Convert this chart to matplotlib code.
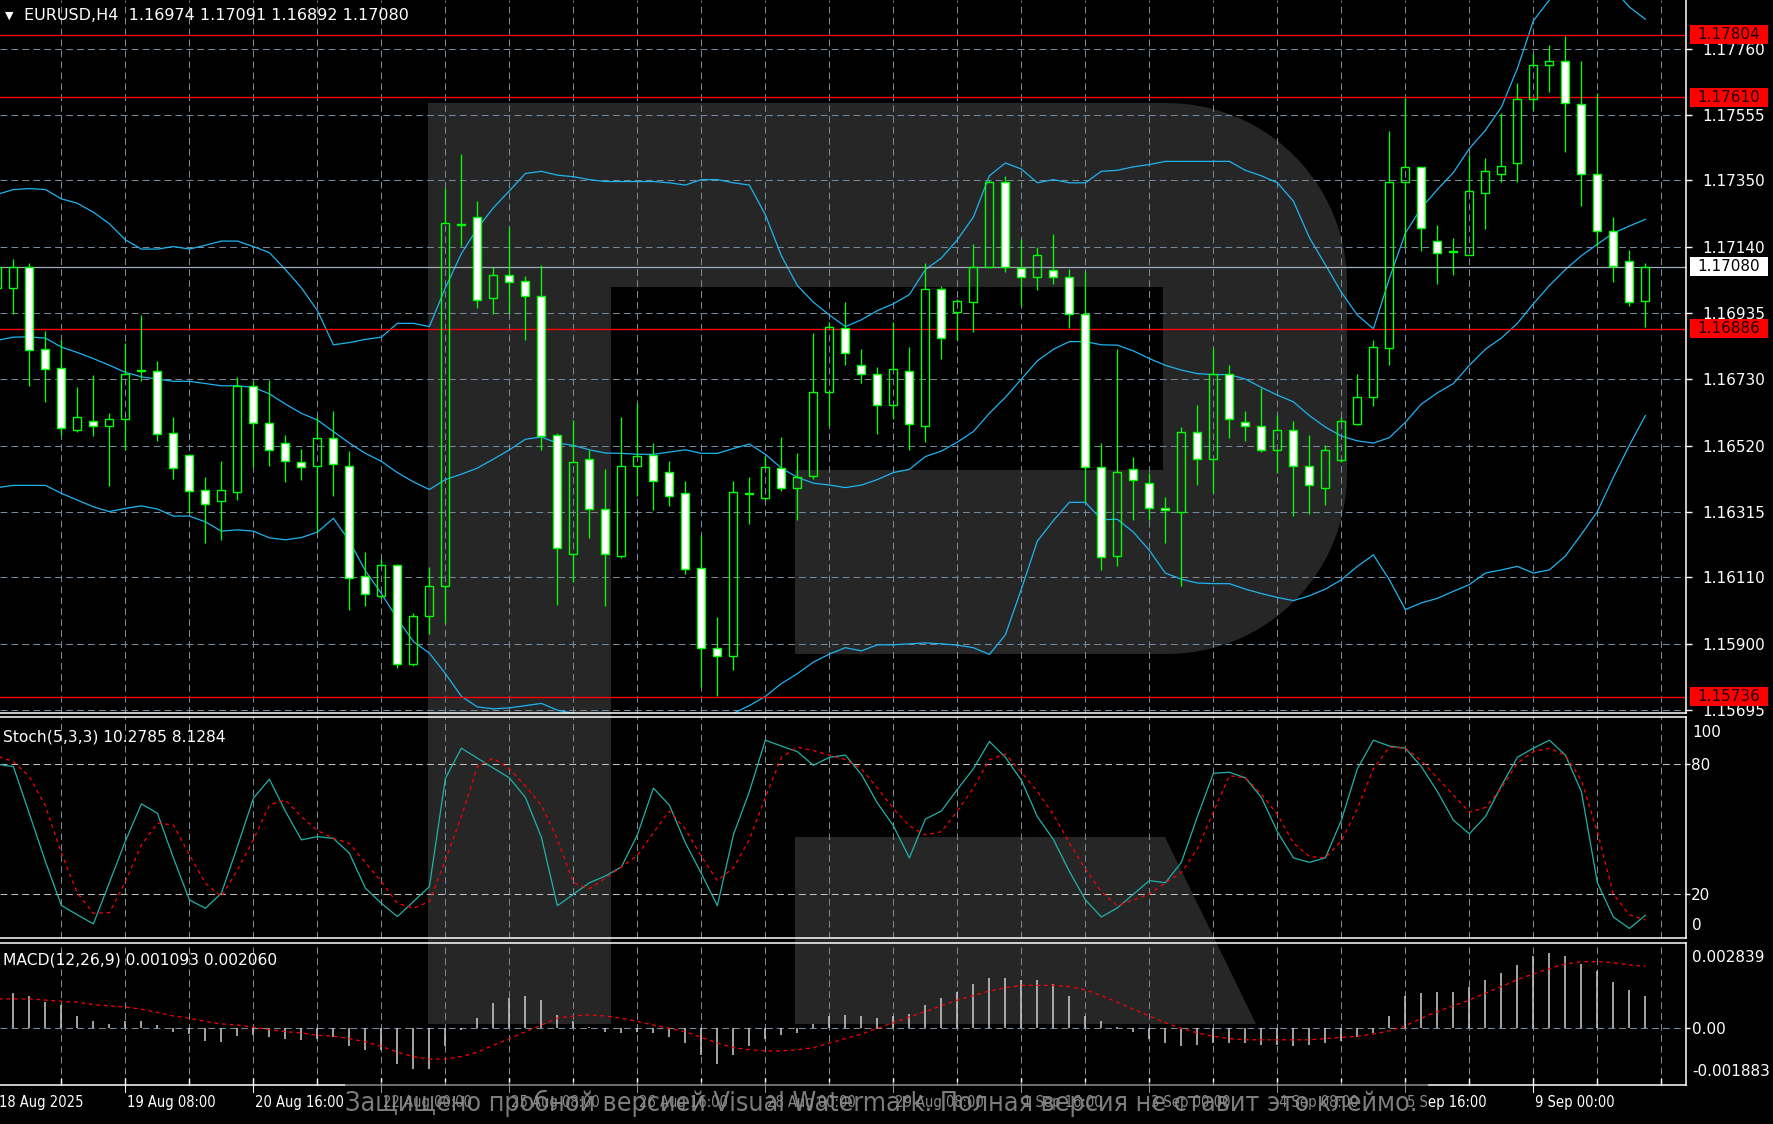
import matplotlib
matplotlib.use("Agg")
import matplotlib.pyplot as plt
from matplotlib import font_manager as fm
from matplotlib.patches import Rectangle, Polygon
import numpy as np

# ---- EURUSD H4 bars, first bar (index -1) is cut by the left edge ----
o = [1.17014, 1.17014, 1.17078, 1.16822, 1.16765, 1.16571, 1.16598, 1.16583, 1.16603, 1.16757,
     1.16753, 1.16561, 1.16491, 1.16384, 1.16347, 1.16377, 1.16708, 1.16591, 1.16529, 1.16469,
     1.16458, 1.16546, 1.16458, 1.16113, 1.16052, 1.16147, 1.15840, 1.15990, 1.16083, 1.17214,
     1.17235, 1.16983, 1.17053, 1.17036, 1.16990, 1.16554, 1.16183, 1.16479, 1.16322, 1.16176,
     1.16458, 1.16491, 1.16439, 1.16372, 1.16140, 1.15890, 1.15863, 1.16372, 1.16358, 1.16451,
     1.16390, 1.16425, 1.16689, 1.16889, 1.16772, 1.16746, 1.16648, 1.16753, 1.16583, 1.17010,
     1.16940, 1.16971, 1.17078, 1.17346, 1.17076, 1.17047, 1.17071, 1.17047, 1.16933, 1.16454,
     1.16177, 1.16447, 1.16404, 1.16325, 1.16315, 1.16565, 1.16479, 1.16746, 1.16596, 1.16583,
     1.16508, 1.16569, 1.16458, 1.16390, 1.16475, 1.16589, 1.16672, 1.16826, 1.17346, 1.17391,
     1.17160, 1.17130, 1.17117, 1.17311, 1.17371, 1.17403, 1.17603, 1.17710, 1.17723, 1.17589,
     1.17371, 1.17190, 1.17097, 1.16974]
h = [1.17085, 1.17104, 1.17090, 1.16880, 1.16850, 1.16703, 1.16743, 1.16622, 1.16843, 1.16929,
     1.16786, 1.16612, 1.16496, 1.16422, 1.16472, 1.16735, 1.16722, 1.16725, 1.16555, 1.16511,
     1.16611, 1.16629, 1.16504, 1.16190, 1.16166, 1.16151, 1.15997, 1.16141, 1.17325, 1.17431,
     1.17285, 1.17078, 1.17204, 1.17050, 1.17086, 1.16561, 1.16601, 1.16508, 1.16448, 1.16612,
     1.16653, 1.16529, 1.16472, 1.16411, 1.16241, 1.15985, 1.16411, 1.16422, 1.16489, 1.16548,
     1.16498, 1.16874, 1.16906, 1.16971, 1.16822, 1.16767, 1.16906, 1.16829, 1.17090, 1.17021,
     1.16978, 1.17150, 1.17352, 1.17362, 1.17168, 1.17143, 1.17181, 1.17074, 1.17068, 1.16529,
     1.16822, 1.16487, 1.16437, 1.16361, 1.16579, 1.16648, 1.16826, 1.16772, 1.16629, 1.16700,
     1.16618, 1.16598, 1.16554, 1.16522, 1.16611, 1.16746, 1.16850, 1.17503, 1.17606, 1.17391,
     1.17211, 1.17171, 1.17428, 1.17418, 1.17560, 1.17653, 1.17744, 1.17774, 1.17799, 1.17723,
     1.17623, 1.17235, 1.17131, 1.17091]
l = [1.17005, 1.16931, 1.16706, 1.16658, 1.16555, 1.16563, 1.16551, 1.16394, 1.16508, 1.16722,
     1.16536, 1.16418, 1.16312, 1.16218, 1.16227, 1.16351, 1.16455, 1.16458, 1.16408, 1.16415,
     1.16251, 1.16365, 1.16009, 1.16019, 1.16044, 1.15828, 1.15833, 1.15933, 1.15966, 1.17145,
     1.16950, 1.16931, 1.16936, 1.16850, 1.16508, 1.16023, 1.16094, 1.16233, 1.16019, 1.16170,
     1.16365, 1.16320, 1.16332, 1.16119, 1.15766, 1.15738, 1.15819, 1.16275, 1.16351, 1.16380,
     1.16290, 1.16418, 1.16583, 1.16772, 1.16718, 1.16558, 1.16603, 1.16508, 1.16532, 1.16793,
     1.16850, 1.16876, 1.17078, 1.17064, 1.16957, 1.17007, 1.17026, 1.16889, 1.16344, 1.16133,
     1.16144, 1.16290, 1.16290, 1.16216, 1.16083, 1.16397, 1.16372, 1.16544, 1.16536, 1.16501,
     1.16437, 1.16301, 1.16308, 1.16337, 1.16469, 1.16586, 1.16646, 1.16772, 1.17143, 1.17128,
     1.17026, 1.17053, 1.17117, 1.17197, 1.17345, 1.17346, 1.17570, 1.17627, 1.17439, 1.17271,
     1.17145, 1.17033, 1.16957, 1.16892]
c = [1.17078, 1.17078, 1.16819, 1.16760, 1.16576, 1.16611, 1.16583, 1.16603, 1.16746, 1.16754,
     1.16558, 1.16451, 1.16380, 1.16340, 1.16384, 1.16708, 1.16591, 1.16508, 1.16472, 1.16455,
     1.16546, 1.16465, 1.16109, 1.16059, 1.16147, 1.15840, 1.15990, 1.16084, 1.17217, 1.17210,
     1.16976, 1.17053, 1.17033, 1.16989, 1.16551, 1.16201, 1.16469, 1.16322, 1.16183, 1.16458,
     1.16489, 1.16411, 1.16365, 1.16137, 1.15890, 1.15863, 1.16377, 1.16369, 1.16454, 1.16390,
     1.16422, 1.16690, 1.16892, 1.16810, 1.16746, 1.16648, 1.16760, 1.16589, 1.17010, 1.16857,
     1.16974, 1.17078, 1.17346, 1.17078, 1.17047, 1.17117, 1.17047, 1.16933, 1.16454, 1.16173,
     1.16439, 1.16415, 1.16327, 1.16320, 1.16565, 1.16479, 1.16746, 1.16603, 1.16583, 1.16508,
     1.16569, 1.16458, 1.16397, 1.16508, 1.16598, 1.16672, 1.16829, 1.17346, 1.17391, 1.17200,
     1.17124, 1.17126, 1.17317, 1.17378, 1.17396, 1.17603, 1.17710, 1.17723, 1.17592, 1.17371,
     1.17190, 1.17083, 1.16971, 1.17080]

# Bollinger bands (points, /1e5)
bb_up = [117306, 117321, 117324, 117321, 117292, 117278, 117250, 117214, 117164, 117135,
         117135, 117143, 117135, 117147, 117160, 117160, 117143, 117124, 117071, 117014,
         116943, 116836, 116843, 116853, 116860, 116903, 116903, 116893, 117014, 117121,
         117200, 117264, 117317, 117371, 117378, 117366, 117361, 117352, 117346, 117346,
         117346, 117346, 117342, 117335, 117352, 117352, 117342, 117335, 117242, 117114,
         117021, 116969, 116929, 116893, 116914, 116943, 116964, 116993, 117071, 117107,
         117164, 117235, 117364, 117404, 117385, 117342, 117352, 117342, 117342, 117378,
         117381, 117392, 117399, 117409, 117409, 117409, 117409, 117409, 117381, 117364,
         117342, 117285, 117171, 117086, 117000, 116929, 116886, 117043, 117185, 117264,
         117321, 117374, 117449, 117506, 117578, 117699, 117848, 117913, 117977, 117991,
         117984, 117948, 117891, 117853]
bb_mid = [116850, 116860, 116861, 116857, 116829, 116812, 116793, 116772, 116750, 116736,
          116729, 116722, 116722, 116715, 116708, 116708, 116703, 116683, 116651, 116622,
          116601, 116565, 116529, 116497, 116472, 116437, 116408, 116384, 116415, 116432,
          116451, 116479, 116508, 116541, 116548, 116529, 116522, 116508, 116498, 116497,
          116494, 116494, 116501, 116508, 116497, 116497, 116512, 116526, 116494, 116451,
          116422, 116404, 116398, 116390, 116398, 116415, 116437, 116447, 116487, 116504,
          116532, 116565, 116622, 116672, 116729, 116786, 116822, 116846, 116846, 116836,
          116835, 116817, 116793, 116772, 116757, 116746, 116743, 116743, 116729, 116703,
          116679, 116658, 116615, 116579, 116551, 116536, 116529, 116546, 116594, 116651,
          116686, 116715, 116772, 116822, 116857, 116903, 116964, 117021, 117071, 117114,
          117150, 117185, 117207, 117228]
bb_low = [116390, 116397, 116397, 116397, 116372, 116351, 116330, 116315, 116325, 116333,
          116323, 116301, 116301, 116283, 116254, 116258, 116254, 116233, 116227, 116234,
          116251, 116294, 116223, 116130, 116059, 115980, 115909, 115873, 115809, 115738,
          115705, 115699, 115702, 115709, 115716, 115695, 115685, 115677, 115667, 115652,
          115645, 115638, 115638, 115645, 115652, 115667, 115685, 115709, 115738, 115778,
          115809, 115845, 115870, 115890, 115880, 115899, 115899, 115902, 115905, 115902,
          115898, 115890, 115869, 115930, 116073, 116223, 116287, 116344, 116344, 116290,
          116291, 116251, 116194, 116123, 116104, 116092, 116090, 116090, 116073, 116059,
          116047, 116037, 116052, 116073, 116102, 116144, 116180, 116102, 116009, 116030,
          116044, 116066, 116087, 116123, 116133, 116144, 116123, 116133, 116176, 116244,
          116315, 116422, 116522, 116615]

stoch_k = [80.0, 78.9, 57.1, 35.1, 14.8, 10.5, 6.3, 25.4, 44.5, 61.7,
           57.4, 36.8, 17.4, 13.5, 20.5, 42.0, 64.3, 73.1, 58.3, 45.1,
           46.6, 45.8, 38.9, 22.8, 15.8, 9.7, 16.6, 23.5, 73.5, 87.4,
           82.8, 78.2, 73.7, 64.7, 46.3, 14.7, 20.0, 25.3, 28.4, 32.6,
           47.4, 69.0, 61.1, 43.7, 29.5, 14.7, 47.4, 67.4, 91.1, 88.4,
           85.8, 79.5, 83.2, 84.2, 75.3, 62.1, 51.6, 36.8, 54.7, 58.4,
           68.4, 77.9, 90.5, 83.2, 72.6, 55.8, 45.3, 30.5, 17.4, 9.5,
           13.7, 20.0, 26.3, 25.3, 34.7, 55.8, 75.8, 76.3, 73.7, 64.7,
           48.9, 36.8, 34.7, 36.8, 54.2, 77.9, 91.1, 88.4, 87.4, 78.9,
           67.4, 54.2, 47.9, 55.8, 70.0, 83.2, 87.4, 91.1, 84.2, 67.4,
           25.3, 9.5, 4.2, 10.2785]
stoch_d = [83.8, 81.2, 74.3, 60.8, 38.9, 20.5, 11.2, 11.5, 25.8, 42.8,
           52.8, 52.0, 38.2, 25.1, 18.9, 31.2, 45.1, 61.2, 63.5, 55.8,
           49.4, 45.8, 43.5, 34.6, 25.8, 15.8, 13.5, 16.6, 35.8, 55.8,
           78.9, 82.8, 77.9, 70.0, 61.1, 45.3, 25.3, 22.6, 27.4, 32.6,
           37.9, 48.4, 58.4, 50.0, 37.4, 26.3, 32.1, 45.3, 64.7, 83.2,
           87.9, 86.3, 84.2, 82.1, 77.9, 69.0, 59.5, 51.6, 47.4, 48.9,
           58.4, 69.0, 82.1, 84.7, 76.3, 67.4, 56.8, 43.7, 31.6, 21.1,
           14.7, 17.4, 20.0, 25.3, 30.0, 41.1, 57.9, 74.7, 73.7, 66.3,
           56.8, 43.7, 37.4, 36.8, 44.7, 59.5, 77.9, 87.9, 87.4, 81.6,
           73.7, 65.8, 57.9, 60.0, 69.0, 80.5, 85.8, 87.4, 84.2, 72.6,
           48.9, 20.0, 10.5, 8.1284]

macd_main = [0.00117, 0.00117, 0.00109, 0.00087, 0.00079, 0.00041, 0.00023, 0.00015, 0.00026, 0.00026,
             0.00011, -0.00011, -0.00019, -0.00041, -0.00045, -0.00026, -0.00023, -0.00030, -0.00034, -0.00038,
             -0.00034, -0.00030, -0.00060, -0.00071, -0.00071, -0.00117, -0.00135, -0.00135, -0.00060, -0.00004,
             0.00034, 0.00083, 0.00102, 0.00109, 0.00094, 0.00045, 0.00026, 0.00004, -0.00011, -0.00015,
             -0.00011, -0.00015, -0.00030, -0.00049, -0.00087, -0.00117, -0.00087, -0.00060, -0.00034, -0.00023,
             -0.00015, 0.00015, 0.00041, 0.00045, 0.00041, 0.00034, 0.00041, 0.00049, 0.00079, 0.00102,
             0.00120, 0.00147, 0.00166, 0.00169, 0.00162, 0.00162, 0.00147, 0.00109, 0.00041, 0.00026,
             0.00004, -0.00011, -0.00034, -0.00049, -0.00060, -0.00056, -0.00049, -0.00049, -0.00049, -0.00056,
             -0.00056, -0.00060, -0.00056, -0.00049, -0.00041, -0.00030, -0.00015, 0.00041, 0.00109, 0.00117,
             0.00120, 0.00120, 0.00139, 0.00162, 0.00184, 0.00211, 0.00241, 0.00252, 0.00241, 0.00214,
             0.00192, 0.00154, 0.00128, 0.001093]
macd_signal = [0.00098, 0.00098, 0.00098, 0.00094, 0.00090, 0.00087, 0.00079, 0.00075, 0.00071, 0.00064,
               0.00053, 0.00041, 0.00034, 0.00023, 0.00015, 0.00011, 0.00004, -0.00004, -0.00011, -0.00015,
               -0.00023, -0.00026, -0.00034, -0.00045, -0.00060, -0.00079, -0.00094, -0.00102, -0.00102, -0.00094,
               -0.00079, -0.00056, -0.00034, -0.00011, 0.00011, 0.00034, 0.00041, 0.00045, 0.00041, 0.00034,
               0.00023, 0.00011, 0.0, -0.00011, -0.00030, -0.00049, -0.00064, -0.00071, -0.00075, -0.00075,
               -0.00071, -0.00064, -0.00049, -0.00034, -0.00019, 0.0, 0.00019, 0.00038, 0.00056, 0.00075,
               0.00094, 0.00109, 0.00124, 0.00135, 0.00143, 0.00143, 0.00143, 0.00139, 0.00128, 0.00109,
               0.00087, 0.00064, 0.00041, 0.00019, 0.0, -0.00015, -0.00026, -0.00034, -0.00038, -0.00038,
               -0.00038, -0.00038, -0.00038, -0.00034, -0.00030, -0.00026, -0.00019, -0.00008, 0.00008, 0.00034,
               0.00056, 0.00075, 0.00094, 0.00117, 0.00139, 0.00162, 0.00181, 0.00199, 0.00214, 0.00222,
               0.00222, 0.00218, 0.00211, 0.00206]

price_ticks = [1.17760, 1.17555, 1.17350, 1.17140, 1.16935, 1.16730,
               1.16520, 1.16315, 1.16110, 1.15900, 1.15695]
levels = [1.17804, 1.17610, 1.16886, 1.15736]
last_price = 1.17080
xtick_labels = ["18 Aug 2025", "19 Aug 08:00", "20 Aug 16:00", "22 Aug 00:00",
                "25 Aug 08:00", "26 Aug 16:00", "28 Aug 00:00", "29 Aug 08:00",
                "1 Sep 16:00", "3 Sep 00:00", "4 Sep 08:00", "5 Sep 16:00", "9 Sep 00:00"]
xtick_bars = [-1, 7, 15, 23, 31, 39, 47, 55, 63, 71, 79, 87, 95]

header = "EURUSD,H4  1.16974 1.17091 1.16892 1.17080"
stoch_label = "Stoch(5,3,3) 10.2785 8.1284"
macd_label = "MACD(12,26,9) 0.001093 0.002060"
stamp = "Защищено пробной версией Visual Watermark. Полная версия не ставит это клеймо."

# ---------------- layout ----------------
W, H = 1774, 1124
GREEN = "#00ff00"
BAND = "#1eb4f0"
GRID = "#778899"
WM = "#262626"
dash = (0, (6.5, 4))

x = np.arange(len(c)) - 1
bb_up = np.array(bb_up) / 1e5
bb_mid = np.array(bb_mid) / 1e5
bb_low = np.array(bb_low) / 1e5

fig = plt.figure(figsize=(W / 100, H / 100), dpi=100, facecolor="black")


def box(x0, y0, x1, y1):
    return [x0 / W, 1 - y1 / H, (x1 - x0) / W, (y1 - y0) / H]


# condensed font for the time scale if there is one
cands = [f for f in fm.fontManager.ttflist
         if ("Narrow" in f.name or "Condensed" in f.name or f.stretch in ("condensed", "semi-condensed"))
         and f.style == "normal" and f.weight in (400, "normal", "regular")]
cands.sort(key=lambda f: (0 if "Sans" in f.name else 1, f.name))
if cands:
    narrow = fm.FontProperties(fname=cands[0].fname)
else:
    narrow = fm.FontProperties(family="DejaVu Sans")

# background with the big "R" watermark
bg = fig.add_axes([0, 0, 1, 1], zorder=0)
bg.set_xlim(0, W)
bg.set_ylim(H, 0)
bg.axis("off")


def rounded_right(x0, y0, x1, y1, r):
    pts = [(x0, y0), (x1 - r, y0)]
    for a in np.linspace(np.pi / 2, 0, 24):
        pts.append((x1 - r + r * np.cos(a), y0 + r - r * np.sin(a)))
    for a in np.linspace(0, -np.pi / 2, 24):
        pts.append((x1 - r + r * np.cos(a), y1 - r - r * np.sin(a)))
    pts.append((x0, y1))
    return pts


bg.add_patch(Polygon(rounded_right(428, 103, 1347, 654, 180), closed=True, fc=WM, ec="none"))
bg.add_patch(Rectangle((428, 103), 183, 921, fc=WM, ec="none"))
bg.add_patch(Rectangle((611, 287), 552, 183, fc="black", ec="none"))
bg.add_patch(Rectangle((611, 470), 184, 184, fc="black", ec="none"))
bg.add_patch(Polygon([(795, 837), (1165, 837), (1256, 1024), (795, 1024)], closed=True, fc=WM, ec="none"))

ax = fig.add_axes(box(0, 0, 1686, 713), zorder=2)
st = fig.add_axes(box(0, 717, 1686, 938), zorder=2)
md = fig.add_axes(box(0, 943, 1686, 1085), zorder=2)

for a in (ax, st, md):
    a.set_facecolor("none")
    a.set_xlim(-0.8375, 104.54)
    for s in a.spines.values():
        s.set_color("white")
        s.set_linewidth(1.1)
    a.spines["left"].set_visible(False)
    a.yaxis.tick_right()
    a.set_xticks(np.arange(3, 105, 4))
    a.tick_params(axis="x", length=0, labelbottom=False)
    a.grid(axis="x", color=GRID, lw=0.75, ls=dash)
ax.spines["top"].set_visible(False)

# ---- price panel ----
ax.set_ylim(1.15686, 1.17913)
ax.set_yticks(price_ticks)
ax.set_yticklabels(["%.5f" % v for v in price_ticks])
ax.tick_params(axis="y", colors="white", labelsize=11, length=4, width=1, pad=8)
ax.grid(axis="y", color=GRID, lw=0.75, ls=dash)

ax.plot(x, bb_up, color=BAND, lw=0.9, zorder=2.2)
ax.plot(x, bb_mid, color=BAND, lw=0.9, zorder=2.2)
ax.plot(x, bb_low, color=BAND, lw=0.9, zorder=2.2)

for lv in levels:
    ax.axhline(lv, color="red", lw=1.0, zorder=2.4)
ax.axhline(last_price, color="#a3adb8", lw=0.9, zorder=2.4)

oa, ca = np.array(o), np.array(c)
lo_b, hi_b = np.minimum(oa, ca), np.maximum(oa, ca)
ax.vlines(x, l, lo_b, color=GREEN, lw=0.95, zorder=3)
ax.vlines(x, hi_b, h, color=GREEN, lw=0.95, zorder=3)
for xi, b0, b1, bull in zip(x, lo_b, hi_b, ca >= oa):
    ax.add_patch(Rectangle((xi - 0.25, b0), 0.5, max(b1 - b0, 1e-6),
                           fc="none" if bull else "white", ec=GREEN, lw=1.0, zorder=3.5))

# ---- stochastic ----
st.set_ylim(-0.2, 101.8)
st.set_yticks([20, 80])
st.set_yticklabels(["20", "80"])
st.tick_params(axis="y", colors="white", labelsize=11, length=3, width=1, pad=0.5)
st.grid(axis="y", color="#c0c0c0", lw=0.75, ls=dash)
st.plot(x, stoch_k, color="#20b2aa", lw=0.9)
st.plot(x, stoch_d, color="red", lw=0.9, ls=(0, (3, 3)))

# ---- MACD ----
md.set_ylim(-0.001883, 0.002839)
md.set_yticks([0])
md.set_yticklabels(["0.00"])
md.tick_params(axis="y", colors="white", labelsize=11, length=3, width=1, pad=1.5)
md.grid(axis="y", color=GRID, lw=0.75, ls=dash)
md.vlines(x, 0, macd_main, color="#cfcfcf", lw=1.1)
md.plot(x, macd_signal, color="red", lw=0.9, ls=(0, (3, 3)))
md.tick_params(axis="x", direction="in", length=5, width=1, color="white")

# ---- overlay: labels, boxes, header ----
ov = fig.add_axes([0, 0, 1, 1], zorder=5)
ov.set_xlim(0, W)
ov.set_ylim(H, 0)
ov.axis("off")


def ypix(a, v):
    return H - a.transData.transform((0, v))[1]


def xpix(a, v):
    return a.transData.transform((v, 0))[0]


for lv in levels:
    yp = ypix(ax, lv)
    ov.add_patch(Rectangle((1690, yp - 9.5), 78, 19, fc="red", ec="none"))
    ov.text(1729, yp, "%.5f" % lv, color="#1a0000", ha="center", va="center", size=11)
yp = ypix(ax, last_price)
ov.add_patch(Rectangle((1690, yp - 9.5), 78, 19, fc="white", ec="none"))
ov.text(1729, yp, "%.5f" % last_price, color="black", ha="center", va="center", size=11)

ov.text(1692, ypix(st, 100) + 12, "100", color="white", size=11, va="center")
ov.text(1692, ypix(st, 0) - 12, "0", color="white", size=11, va="center")
ov.text(1692, ypix(md, 0.002839) + 14, "0.002839", color="white", size=11, va="center")
ov.text(1692, ypix(md, -0.001883) - 14, "-0.001883", color="white", size=11, va="center")

ov.text(5, 16, "\u25bc", color="white", size=8, va="center")
ov.text(24, 16, header, color="white", size=11.5, va="center")
ov.text(3, 737, stoch_label, color="white", size=11.2, va="center")
ov.text(3, 960, macd_label, color="white", size=11.2, va="center")

rend = fig.canvas.get_renderer()
xl = []
for lab, b in zip(xtick_labels, xtick_bars):
    px = xpix(md, b)
    ov.plot([px, px], [1078, 1092], color="white", lw=0.8)
    xl.append(ov.text(px + 2, 1103, lab, color="white", fontproperties=narrow, size=11,
                      ha="left", va="center"))
w0 = xl[1].get_window_extent(rend).width
for t in xl:
    t.set_fontsize(11 * 88 / w0)

# trial-version stamp
ov.add_patch(Rectangle((345, 1082), 1083, 42, fc="black", ec="none", alpha=0.45, zorder=3))
wt = ov.text(345, 1103, stamp, color="#8a8a8a", fontproperties=narrow, size=16,
             ha="left", va="center", zorder=4, alpha=0.9)
ww = wt.get_window_extent(rend).width
wt.set_fontsize(16 * 1083 / ww)

fig.savefig("out.png", dpi=100, facecolor="black")
